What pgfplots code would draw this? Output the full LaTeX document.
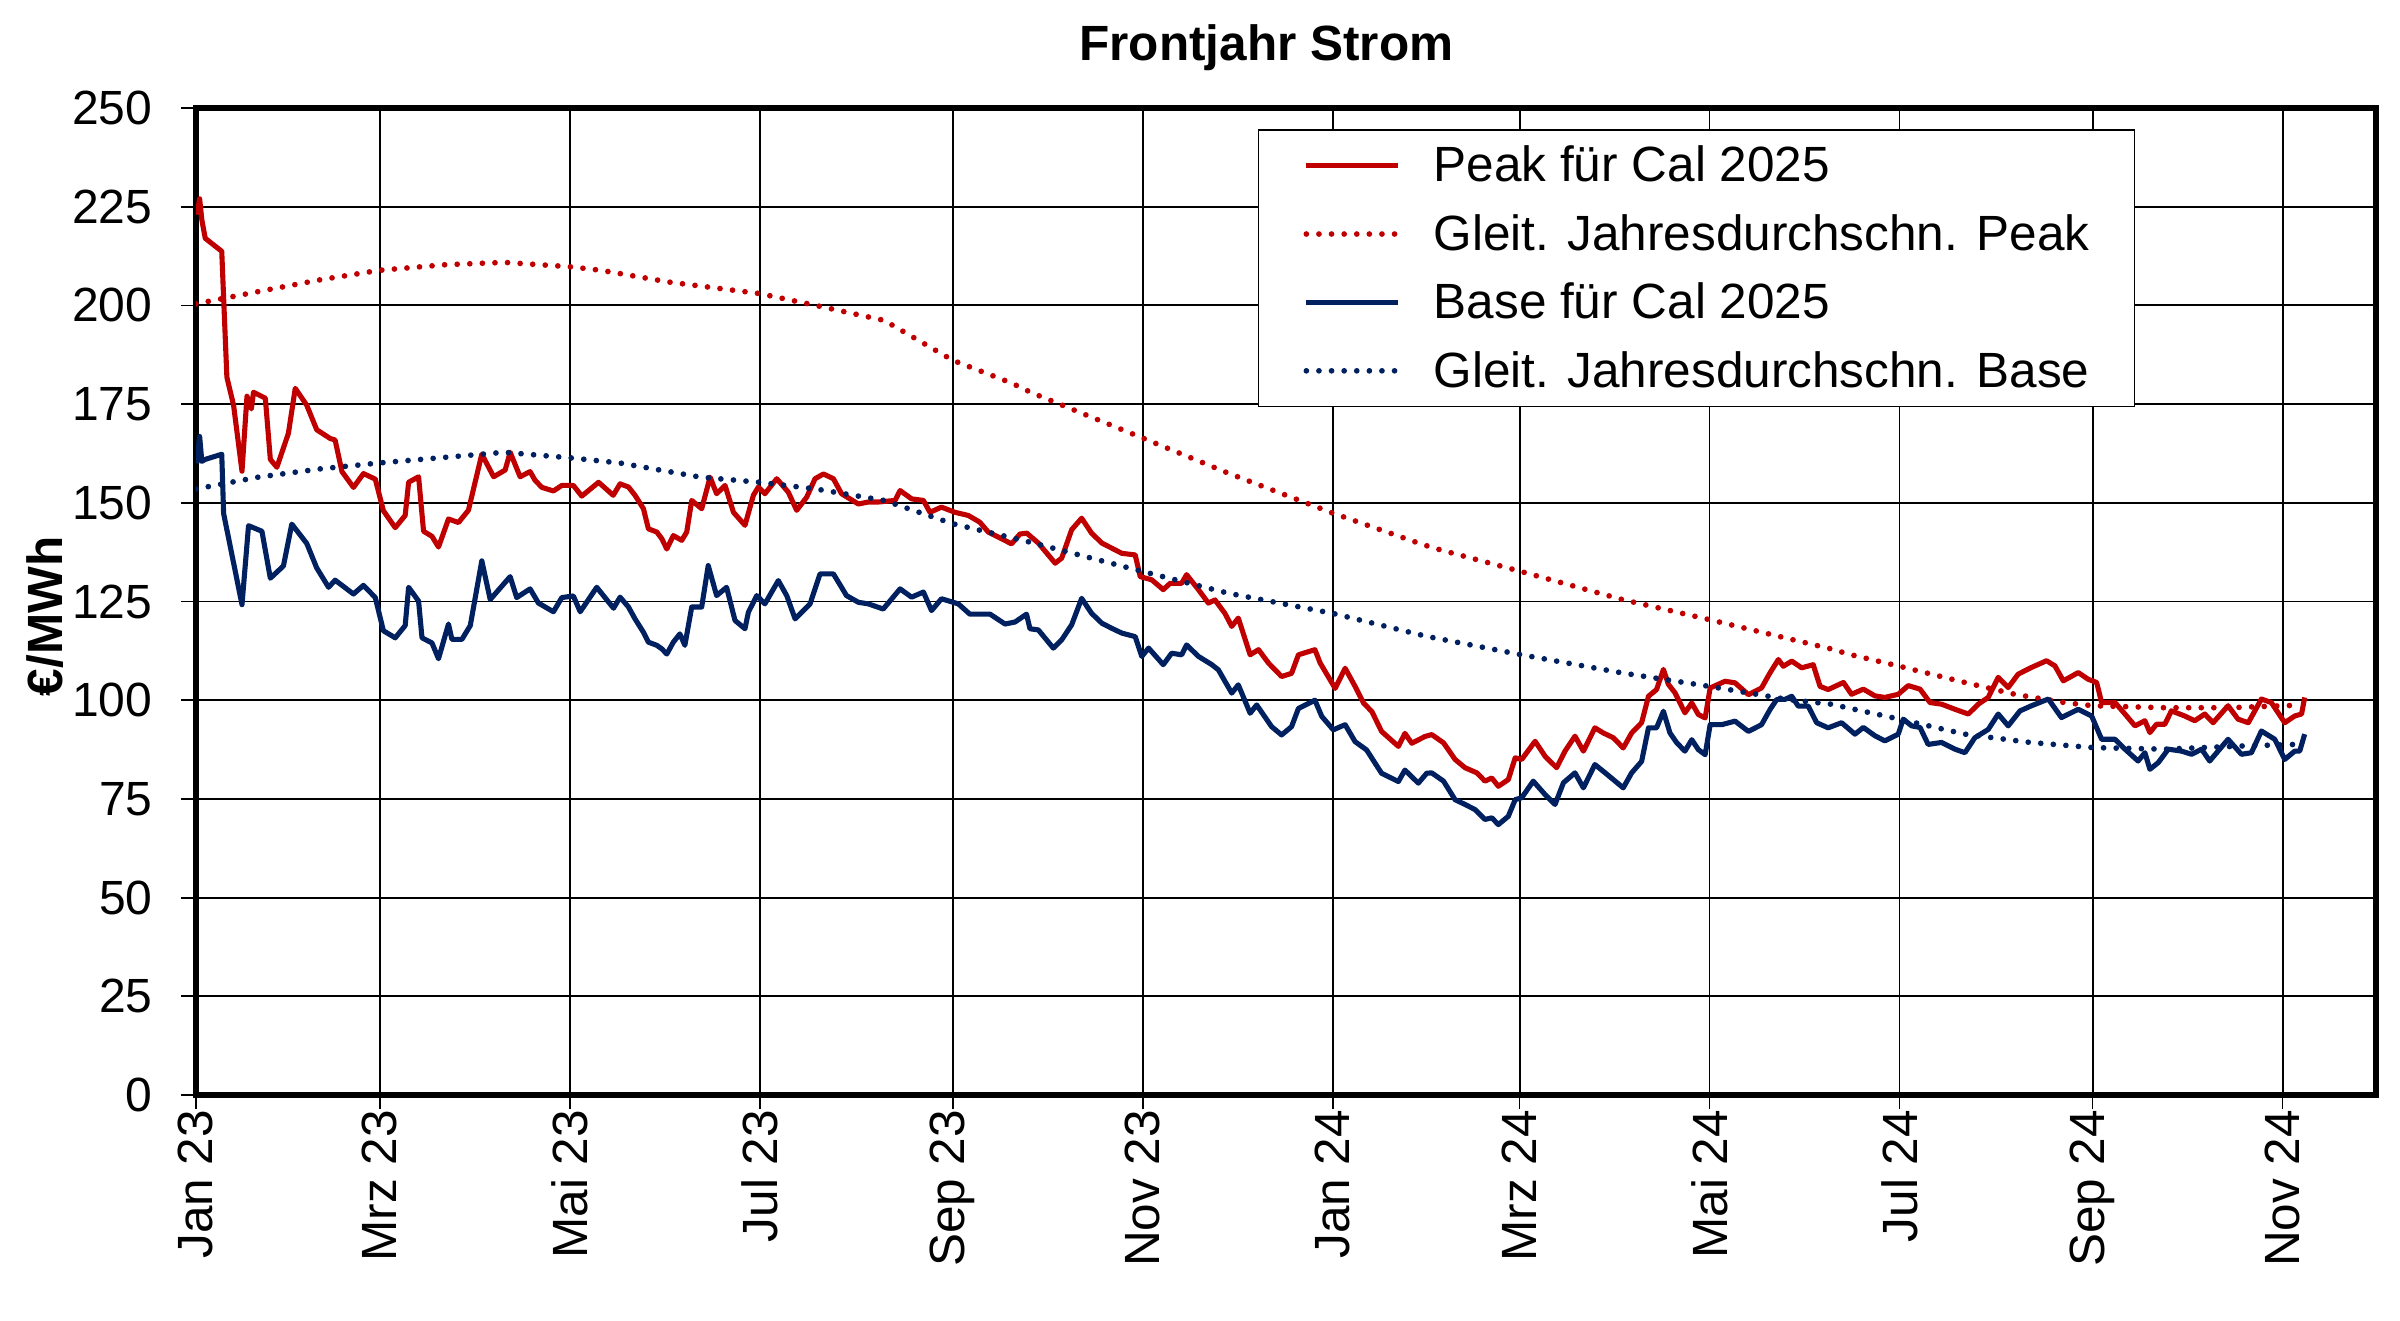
\documentclass[border=0pt]{standalone}
\usepackage{fontspec}
\setmainfont{Liberation Sans}
\usepackage{pgfplots}
\usepackage{pgfplotstable}
\pgfplotsset{compat=1.18}
\definecolor{peakred}{RGB}{192,0,0}
\definecolor{basenavy}{RGB}{0,32,96}
\newcommand{\fs}{\fontsize{16.5}{19.8}\selectfont}
\newcommand{\ft}{\fontsize{16}{19.2}\selectfont}

\pgfplotstableread{
x y
0.3 223
1.2 227
1.9 221.7
3 217
8.3 213.7
8.9 202
9.95 181.8
12.1 174.7
14.8 158
16.4 177
17.8 173.8
18.5 178
22.3 176.5
23.9 161
26 159
29.7 167.6
31.9 179
35.6 174.7
38.8 168.5
43.1 166.3
44.7 165.9
46.9 157.9
50.6 153.9
53.8 157.4
57.6 156
60.2 148
64 143.7
67.2 146.8
68.3 155.2
71.5 156.6
73.1 142.8
75.8 141.5
77.9 138.8
81.1 145.9
84.3 145
87.5 148.1
91.8 162.3
95.6 156.6
99.3 158.3
100.9 162.8
104.1 156.6
107.3 157.9
108.9 155.7
111.1 153.9
114.8 153
117.5 154.4
121.2 154.4
123.9 151.7
129.3 155.2
134 151.9
136.2 154.8
138.9 154
141 151.9
143.7 148.5
145.3 143.4
148 142.6
149.6 140.9
151.2 138.3
153.3 141.7
156 140.5
157.6 142.6
159.2 150.6
162.4 148.5
165.1 156.5
167.2 152.3
169.9 154.4
172.6 147.6
176.3 144.3
179 151.9
180.6 154
182.7 152.3
186.5 156.1
190.2 152.7
192.9 148.1
196.1 151.4
198.8 156.1
201.5 157.3
204.7 156.1
207.3 152.3
212.7 149.7
215.9 150.2
219.1 150.2
224.5 150.6
226.1 153.1
229.8 151
233.6 150.6
235.7 147.6
239.4 148.9
243.7 147.6
248 146.8
251.7 145.1
254.4 142.6
258.7 140.9
261.9 139.6
264.6 142.1
266.8 142.3
270.5 139.8
275.9 134.7
278 136
281.2 143.2
284.4 146.1
287.6 142.3
290.9 139.8
294.1 138.5
297.3 137.2
301.6 136.8
303.2 131.3
306.9 130.5
310.6 128
312.8 129.6
316.5 129.6
318.1 131.8
321.9 128
325.1 124.6
327.2 125.4
330.4 122
332.6 118.7
334.7 120.8
338.5 111.5
341.2 112.8
344.4 109.4
348.6 106
351.8 106.8
354 111.5
359.3 112.8
361 109.4
365.8 103
369 108.1
372.2 103.5
374.9 99.3
377.6 97.1
380.7 92.1
386.1 88.3
388.2 91.6
390.4 89.1
394.6 90.8
396.8 91.3
400.6 89.2
404.3 85
407.5 82.9
411.3 81.6
413.9 79.5
416.1 80.3
418.2 78.2
421.4 79.9
423.6 85.4
425.7 85
430 89.6
433.2 85.8
436.9 82.9
439.6 87.1
442.8 90.9
445.5 87.1
449.2 93
451.9 91.7
455.1 90.5
458.3 87.9
461 91.7
464.2 94.3
466.4 101
469 102.7
471.2 107.8
472.8 104
474.9 101.9
478.1 96.8
480.3 99.3
482.4 96.4
484.6 95.5
486.2 103.1
491 104.8
494.2 104.4
498.5 101.4
502.7 103.1
505.4 106.9
508.1 110.3
509.7 108.6
512.4 109.9
515.6 108.2
519.3 109
521.5 103.5
524.1 102.7
529 104.5
531.6 101.5
535.4 102.8
539.1 101.1
542.3 100.7
546.6 101.5
549.8 103.7
553.6 102.8
556.8 99.4
560.5 99
564.8 97.7
569.1 96.5
572.3 99
575.5 100.7
578.7 105.8
581.9 103.2
585.1 106.6
589.4 108.3
594.2 110
596.9 108.7
599.6 104.9
604.4 107
607.6 105.3
610.3 104.5
611.9 99.4
616.2 99.4
619.4 96.5
622.6 93.5
625.8 94.8
627.4 91.8
629.5 93.9
632.2 93.9
634.3 97.3
638.6 96
641.8 94.8
645 96.5
647.7 94.3
652.5 98.6
655.7 95.2
659 94.3
663.2 100.3
666.4 99.4
670.7 94.3
673.9 96
676.1 96.5
677.1 100.7
}\peak

\pgfplotstableread{
x y
0 200.4
20 203.5
40 206.5
59 208.9
80 210.3
99 210.9
120 209.8
130 208.9
152 205.9
181 203
199 200
221 196.2
233 190.7
243 186.1
262 180.3
268 178
304 166.4
331.5 157.5
365 147.4
394 139.4
399.5 138.1
425 132.7
458 125.5
486 120.4
525 113
531 111.6
547 108.6
568 104.5
584 101.5
600 99.4
609 98.6
632 98.1
653 98.1
674 98.7
}\peakma

\pgfplotstableread{
x y
0.3 160
1.2 166.8
1.9 160.5
3 161
8.3 162.3
8.9 147.3
14.8 124.2
16.9 144.2
21.2 142.8
23.9 130.9
28.1 134
30.8 144.6
35.6 139.7
38.8 133.5
42.6 128.6
44.7 130.4
50.6 126.9
53.8 129.1
57.6 126
60.2 117.6
64 115.8
67.2 118.9
68.3 128.6
71.5 125.1
72.6 115.8
75.8 114.5
77.9 110.5
81.1 119.3
82.2 115.4
85.4 115.4
88.1 118.9
91.8 135.3
94.5 125.5
100.9 131.3
103 126
107.3 128.2
110 124.6
114.8 122.4
117.5 126
121.2 126.4
123.4 122.4
128.7 128.6
134.1 123.3
136.2 126.1
138.9 123.6
141 120.6
143.7 117.2
145.3 114.7
148 113.9
149.6 113
151.2 111.7
153.3 114.7
155.4 116.8
157 113.9
159.2 123.6
162.4 123.6
164.5 134.1
167.2 126.5
170.4 128.6
173.1 120.2
176.3 118.1
177.4 122.3
180.1 126.5
182.7 124.4
187 130.3
189.7 126.5
192.4 120.6
197.2 124.4
200.4 132
204.7 132
208.9 126.5
212.7 124.8
215.9 124.4
220.7 123.1
226.1 128.2
229.8 126.1
233.6 127.4
236.2 122.7
239.4 125.7
244.8 124.4
248.5 121.8
255 121.8
259.8 119.3
263 119.8
266.7 121.8
267.8 118.1
270.5 117.8
275.3 113.2
278 115.3
281.2 119.1
284.4 125.8
287.6 122
290.9 119.5
294.1 118.2
297.3 117
301.6 116.1
303.7 111.1
305.9 113.2
310.6 109
313.3 111.9
316.5 111.5
318.1 114
321.9 111.1
326.2 109
328.3 107.7
332.6 101.8
334.7 103.9
338.5 96.7
340.6 98.8
345.4 93.3
348.6 91.2
351.8 93.3
354 97.9
359.3 100
361.5 95.9
365.2 92.5
369 93.8
372.2 89.5
375.9 87.4
380.7 81.5
386.1 79.4
388.2 82.3
392.5 79
395.2 81.5
396.8 81.6
400.6 79.5
404.3 74.8
407.5 73.6
410.7 72.3
413.9 69.8
416.1 70.2
418.2 68.5
421.4 70.6
423.6 74.8
425.7 75.3
429.4 79.5
433.2 76.1
436.4 73.6
439.1 79.1
442.8 81.6
445.5 77.8
449.2 83.7
452.5 81.6
458.3 77.8
461 81.6
464.2 84.5
466.4 93
469 93
471.2 97.2
473.3 91.7
475.5 89.2
478.1 87.1
480.3 90
482.4 87.5
484.6 86.2
486.2 93.8
489.9 93.8
494.2 94.7
498.5 92.1
502.7 93.8
505.4 97.6
507.6 100.2
510.2 100.2
512.4 101
514.5 98.5
517.7 98.5
520.4 94.3
524.1 93
528.4 94.3
532.7 91.4
535.4 93.1
539.1 91
542.3 89.7
546.6 91.4
548.2 95.2
550.9 93.5
553.6 93.1
556.2 88.8
560.5 89.3
564.8 87.6
568 86.7
571.2 90.5
575.5 92.6
578.7 96.5
581.9 93.5
585.7 97.3
589.4 98.6
594.8 100.3
599 95.6
604.4 97.7
608.7 96
611.9 90.1
616.2 90.1
619.4 87.6
623.6 84.6
625.8 86.7
627.4 82.5
630.1 84.2
633.3 87.6
637.6 87.1
640.8 86.3
644 87.6
646.6 84.6
652.5 90.1
656.8 86.3
660 86.7
663.2 92.2
667.5 90.1
670.7 85
673.9 87.1
675.5 87.1
677.1 91.4
}\base

\pgfplotstableread{
x y
0 153.5
20 156.5
40 158.6
59 160.1
99 162.8
120 161.4
136 160.1
162 156.5
181 155.2
199 153.5
221 150.6
243 144.7
268 140
304 132.6
331.5 127.1
365 122
395 116.2
425 111.6
458 106.9
486 103.5
511 100.2
525 99
547 95.2
568 91.4
589 89.3
609 88
632 87.6
657 88.4
674 88.8
}\basema

\begin{document}
\begin{tikzpicture}
\useasboundingbox (0,0) rectangle (800pt,440pt);
\begin{axis}[
  at={(65.3pt,75pt)}, anchor=south west,
  scale only axis,
  width=726.7pt, height=329pt,
  xmin=0, xmax=700, ymin=0, ymax=250,
  xtick={0,59,120,181,243,304,365,425,486,547,609,670},
  xticklabels={Jan 23,Mrz 23,Mai 23,Jul 23,Sep 23,Nov 23,Jan 24,Mrz 24,Mai 24,Jul 24,Sep 24,Nov 24},
  ytick={0,25,...,250},
  /pgf/number format/assume math mode=true,
  xticklabel style={font=\fs, rotate=90, anchor=east, inner sep=0pt},
  yticklabel style={font=\ft, anchor=east, inner sep=0pt, xshift=-9.5pt},
  tick pos=left, tick align=outside,
  major tick length=4.8pt,
  tick style={black, line width=0.6pt},
  axis line style={line width=2pt},
  grid=major,
  major grid style={black, line width=0.65pt},
  title={Frontjahr Strom},
  title style={at={(0.491,1.0294)}, anchor=base, font=\bfseries\fs},
  ylabel={€/MWh},
  ylabel style={at={(-0.0692,0.485)}, anchor=center, font=\bfseries\fs},
  legend style={
    at={(0.487,0.9787)}, anchor=north west,
    draw=black, line width=0.6pt, fill=white,
    inner xsep=15pt, inner ysep=0.5pt,
    column sep=10.8pt, row sep=0pt,
    font=\fs,
    nodes={inner xsep=0pt, inner ysep=0pt, text height=16.8pt, text depth=6pt},
  },
  legend cell align=left,
  legend image code/.code={\draw[#1] (0pt,0pt) -- (30.7pt,0pt);},
]
\addplot[peakred, line width=1.7pt, line join=round] table[x=x,y=y] {\peak};
\addlegendentry{Peak für Cal 2025}
\addplot[peakred, line width=1.9pt, line cap=round, dash pattern=on 0pt off 4.2pt] table[x=x,y=y] {\peakma};
\addlegendentry{Gleit. Jahresdurchschn. Peak}
\addplot[basenavy, line width=1.7pt, line join=round] table[x=x,y=y] {\base};
\addlegendentry{Base für Cal 2025}
\addplot[basenavy, line width=1.9pt, line cap=round, dash pattern=on 0pt off 4.2pt] table[x=x,y=y] {\basema};
\addlegendentry{Gleit. Jahresdurchschn. Base}
\end{axis}
\end{tikzpicture}
\end{document}
